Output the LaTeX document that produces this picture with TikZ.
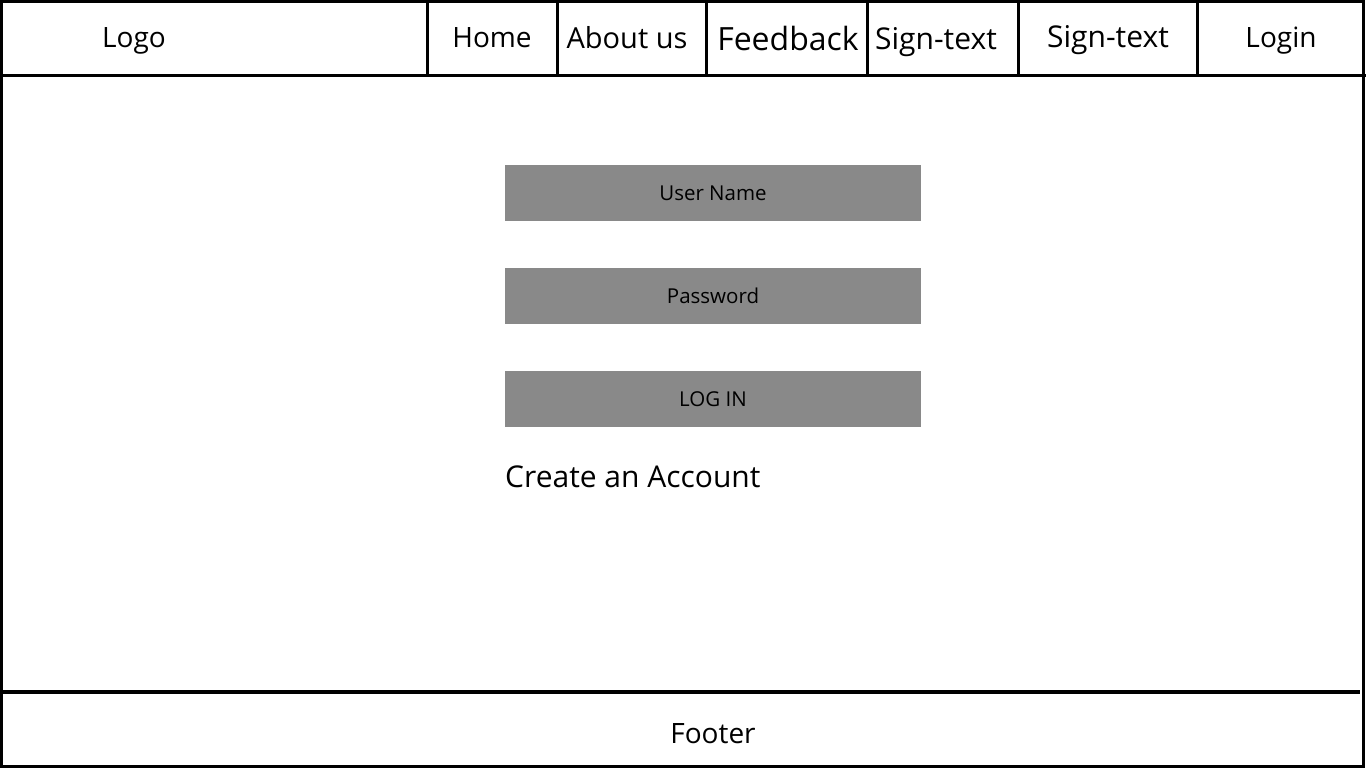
\documentclass[tikz,border=0pt]{standalone}
\usepackage{fontspec}
\setmainfont{Open Sans}
\usetikzlibrary{positioning}
\definecolor{fieldgray}{HTML}{898989}

\begin{document}
\begin{tikzpicture}[x=1pt,y=-1pt,
  every node/.style={inner sep=0pt},
  navtext/.style={anchor=base,font=\fontsize{28}{30}\selectfont},
  field/.style={fill=fieldgray,minimum width=416pt,minimum height=56pt,
    font=\fontsize{20.5}{22}\selectfont},
  rule/.style={line width=3pt},
  node distance=46.5pt]
\useasboundingbox (0,0) rectangle (1366,768);
% frame and header
\draw[rule] (1.5,1.5) rectangle (1363.5,766.5);
\draw[rule] (0,76) -- (1366,76);
\foreach \x in {427,557,706,867,1018,1197}
  \draw[rule] (\x,0) -- (\x,76);
\draw[line width=4pt] (0,692) -- (1360,692);
% menu
\node[navtext] (logo) at (134,48) {Logo};
\node[navtext] (home) at (492,48) {Home};
\node[navtext,font=\fontsize{29}{31}\selectfont] (about) at (627,49) {About us};
\node[navtext,font=\fontsize{32}{34}\selectfont] (feedback) at (788,51) {Feedback};
\node[navtext,font=\fontsize{30}{32}\selectfont] (signa) at (936,50) {Sign-text};
\node[navtext,font=\fontsize{30}{32}\selectfont] (signb) at (1108,48) {Sign-text};
\node[navtext] (login) at (1281,48) {Login};
% form
\node[field] (user) at (713,193) {User Name};
\node[field,below=of user] (pass) {Password};
\node[field,below=of pass] (logbtn) {LOG IN};
\node[anchor=base west,font=\fontsize{30}{32}\selectfont] (create) at (505,487) {Create an Account};
\node[navtext] (footer) at (713,743) {Footer};
\end{tikzpicture}
\end{document}
